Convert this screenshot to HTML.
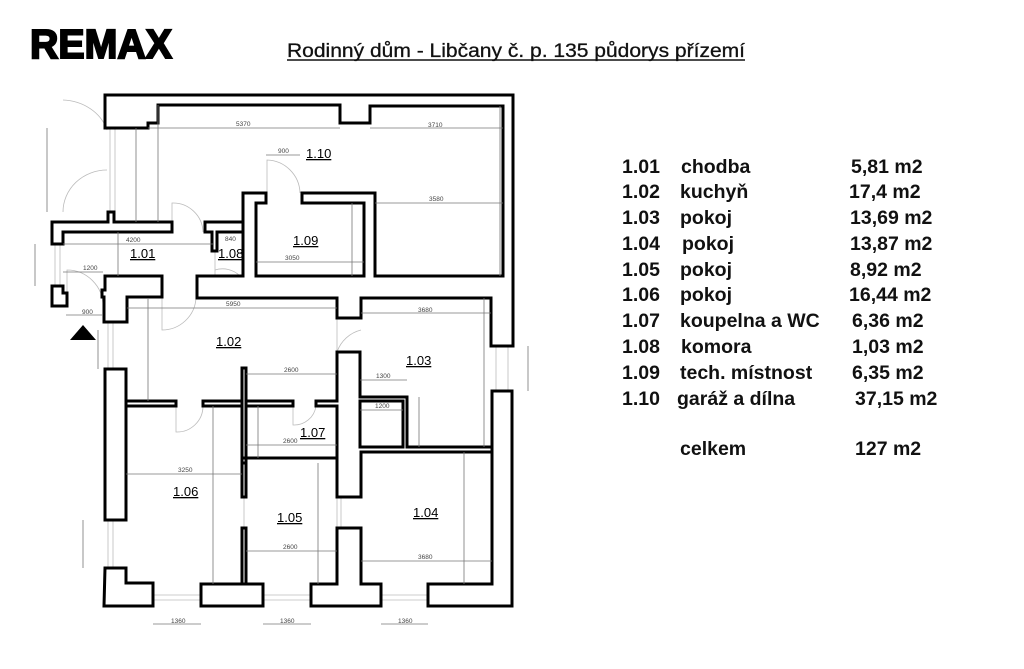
<!DOCTYPE html>
<html><head><meta charset="utf-8"><style>
html,body{margin:0;padding:0;background:#fff;width:1024px;height:669px;overflow:hidden}
svg{display:block}
.w{fill:#fff;stroke:#000;stroke-width:3;stroke-linejoin:miter}
.d{stroke:#777;stroke-width:0.8;fill:none}
.g{stroke:#bbb;stroke-width:0.8;fill:none}
.dt{font-family:"Liberation Sans",sans-serif;font-size:6.5px;fill:#444}
.rl{font-family:"Liberation Sans",sans-serif;font-size:13px;fill:#000;text-decoration:underline}
.lg{font-family:"Liberation Sans",sans-serif;font-size:19.5px;font-weight:bold;fill:#111}
</style></head><body>
<svg width="1024" height="669" viewBox="0 0 1024 669" xmlns="http://www.w3.org/2000/svg">
<text x="30" y="58" font-family="Liberation Sans,sans-serif" font-size="41" font-weight="bold" stroke="#000" stroke-width="2" textLength="142" lengthAdjust="spacingAndGlyphs">REMAX</text>
<text x="287" y="57" font-family="Liberation Sans,sans-serif" font-size="19" fill="#111" stroke="#111" stroke-width="0.3" textLength="458" lengthAdjust="spacingAndGlyphs">Rodinný dům - Libčany č. p. 135 půdorys přízemí</text>
<line x1="287" y1="60" x2="745" y2="60" stroke="#111" stroke-width="1.5"/>

<g class="g">
<line x1="110" y1="128" x2="110" y2="212"/><line x1="115" y1="128" x2="115" y2="212"/>
<path d="M63 100 A 48 42 0 0 1 107 130 M63 212 A 44 42 0 0 1 107 170"/>
<line x1="55" y1="244" x2="55" y2="286"/><line x1="60" y1="244" x2="60" y2="286"/>
<line x1="108" y1="322" x2="108" y2="369"/><line x1="113" y1="322" x2="113" y2="369"/>
<line x1="108" y1="520" x2="108" y2="568"/><line x1="113" y1="520" x2="113" y2="568"/>
<line x1="153" y1="600" x2="201" y2="600"/><line x1="153" y1="595" x2="201" y2="595"/>
<line x1="263" y1="600" x2="311" y2="600"/><line x1="263" y1="595" x2="311" y2="595"/>
<line x1="381" y1="600" x2="428" y2="600"/><line x1="381" y1="595" x2="428" y2="595"/>
<line x1="496" y1="346" x2="496" y2="391"/><line x1="508" y1="346" x2="508" y2="391"/>
<path d="M172 232 L172 203 A 30 30 0 0 1 203 232"/>
<path d="M267 193 L267 160 A 34 34 0 0 1 300 193"/>
<path d="M162 298 L162 330 A 34 34 0 0 0 196 298"/>
<path d="M337 318 L337 352 A 34 34 0 0 1 361 330"/>
<path d="M176 406 L176 432 A 26 26 0 0 0 203 406"/>
<path d="M293 406 L293 425 A 22 22 0 0 0 316 406"/>
<path d="M215 251 L215 276 M215 270 A 25 25 0 0 1 240 276"/>
<path d="M67 306 L67 270 A 36 36 0 0 1 103 306"/>
<line x1="244" y1="497" x2="244" y2="528"/><line x1="337" y1="497" x2="337" y2="528"/><line x1="341" y1="497" x2="341" y2="528"/>
</g>

<g class="w">
<polygon points="105,95 513,95 513,346 491,346 491,298 361,298 361,318 337,318 337,298 197,298 197,276 243,276 243,193 266,193 266,203 256,203 256,276 364,276 364,203 302,203 302,193 375,193 375,276 503,276 503,106 370,106 370,123 340,123 340,105 158,105 158,123 148,123 148,128 110,128 110,128 105,128"/>
<polygon points="52,222 108,222 108,212 114,212 114,222 172,222 172,232 63,232 63,244 52,244"/>
<polygon points="205,222 243,222 243,232 217,232 217,251 212,251 212,232 205,232"/>
<polygon points="105,276 162,276 162,297 127,297 127,322 104,322 104,297 102,297 102,290 105,290"/>
<polygon points="52,286 63,286 63,293 67,293 67,306 52,306"/>
<rect x="105" y="369" width="21" height="151"/>
<polygon points="105,568 126,568 126,583 153,583 153,606 104,606"/>
<rect x="201" y="584" width="62" height="22"/>
<rect x="242" y="528" width="4" height="56"/>
<polygon points="311,584 337,584 337,528 361,528 361,584 381,584 381,606 311,606"/>
<polygon points="428,584 492,584 492,391 512,391 512,606 428,606"/>
<rect x="126" y="401" width="50" height="5"/>
<rect x="203" y="401" width="90" height="5"/>
<rect x="242" y="368" width="4" height="129"/>
<polygon points="316,401 337,401 337,352 360,352 360,397 407,397 407,447 492,447 492,452 361,452 361,497 337,497 337,458 246,458 246,463 242,463 242,458 246,458 337,458 337,406 316,406"/>
<polygon points="360,401 403,401 403,447 360,447"/>
</g>
<polygon points="70,340 96,340 83,325" fill="#000"/>

<g class="d">
<line x1="148" y1="128" x2="340" y2="128"/><line x1="370" y1="128" x2="503" y2="128"/>
<line x1="136" y1="128" x2="136" y2="222"/><line x1="158" y1="105" x2="158" y2="222"/>
<line x1="47" y1="128" x2="47" y2="212"/><line x1="500" y1="106" x2="500" y2="276"/>
<line x1="375" y1="203" x2="503" y2="203"/><line x1="256" y1="262" x2="364" y2="262"/><line x1="352" y1="203" x2="352" y2="276"/>
<line x1="266" y1="155" x2="300" y2="155"/><line x1="63" y1="244" x2="213" y2="244"/>
<line x1="118" y1="232" x2="118" y2="276"/><line x1="63" y1="272" x2="103" y2="272"/><line x1="35" y1="244" x2="35" y2="286"/>
<line x1="127" y1="308" x2="337" y2="308"/><line x1="361" y1="313" x2="491" y2="313"/>
<line x1="66" y1="315" x2="103" y2="315"/><line x1="148" y1="298" x2="148" y2="401"/><line x1="98" y1="330" x2="98" y2="369"/>
<line x1="246" y1="374" x2="337" y2="374"/><line x1="360" y1="380" x2="407" y2="380"/><line x1="360" y1="410" x2="403" y2="410"/>
<line x1="484" y1="298" x2="484" y2="447"/><line x1="419" y1="397" x2="419" y2="447"/><line x1="528" y1="346" x2="528" y2="391"/>
<line x1="258" y1="406" x2="258" y2="458"/><line x1="246" y1="445" x2="337" y2="445"/>
<line x1="126" y1="474" x2="242" y2="474"/><line x1="213" y1="406" x2="213" y2="584"/>
<line x1="318" y1="463" x2="318" y2="584"/><line x1="246" y1="551" x2="337" y2="551"/>
<line x1="361" y1="561" x2="492" y2="561"/><line x1="464" y1="452" x2="464" y2="584"/>
<line x1="83" y1="520" x2="83" y2="568"/>
<line x1="153" y1="624" x2="201" y2="624"/><line x1="263" y1="624" x2="311" y2="624"/><line x1="381" y1="624" x2="428" y2="624"/>
</g>
<g class="dt">
<text x="236" y="126">5370</text><text x="428" y="127">3710</text><text x="429" y="201">3580</text>
<text x="285" y="260">3050</text><text x="278" y="153">900</text><text x="126" y="242">4200</text>
<text x="225" y="241">840</text><text x="83" y="270">1200</text><text x="82" y="314">900</text>
<text x="226" y="306">5950</text><text x="418" y="312">3680</text><text x="284" y="372">2600</text>
<text x="376" y="378">1300</text><text x="375" y="408">1200</text><text x="283" y="443">2600</text>
<text x="178" y="472">3250</text><text x="283" y="549">2600</text><text x="418" y="559">3680</text>
<text x="171" y="623">1360</text><text x="280" y="623">1360</text><text x="398" y="623">1360</text>
</g>

<g class="rl">
<text x="306" y="158">1.10</text><text x="293" y="245">1.09</text><text x="218" y="258">1.08</text>
<text x="130" y="258">1.01</text><text x="216" y="346">1.02</text><text x="406" y="365">1.03</text>
<text x="300" y="437">1.07</text><text x="173" y="496">1.06</text><text x="277" y="522">1.05</text>
<text x="413" y="517">1.04</text>
</g>

<g class="lg">
<text x="622" y="173">1.01</text><text x="681" y="173">chodba</text><text x="851" y="173">5,81 m2</text>
<text x="622" y="198">1.02</text><text x="680" y="198">kuchyň</text><text x="849" y="198">17,4 m2</text>
<text x="622" y="224">1.03</text><text x="680" y="224">pokoj</text><text x="850" y="224">13,69 m2</text>
<text x="622" y="250">1.04</text><text x="682" y="250">pokoj</text><text x="850" y="250">13,87 m2</text>
<text x="622" y="276">1.05</text><text x="680" y="276">pokoj</text><text x="850" y="276">8,92 m2</text>
<text x="622" y="301">1.06</text><text x="680" y="301">pokoj</text><text x="849" y="301">16,44 m2</text>
<text x="622" y="327">1.07</text><text x="680" y="327">koupelna a WC</text><text x="852" y="327">6,36 m2</text>
<text x="622" y="353">1.08</text><text x="681" y="353">komora</text><text x="852" y="353">1,03 m2</text>
<text x="622" y="379">1.09</text><text x="680" y="379">tech. místnost</text><text x="852" y="379">6,35 m2</text>
<text x="622" y="405">1.10</text><text x="677" y="405">garáž a dílna</text><text x="855" y="405">37,15 m2</text>
<text x="680" y="455">celkem</text><text x="855" y="455">127 m2</text>
</g>
</svg>
</body></html>
